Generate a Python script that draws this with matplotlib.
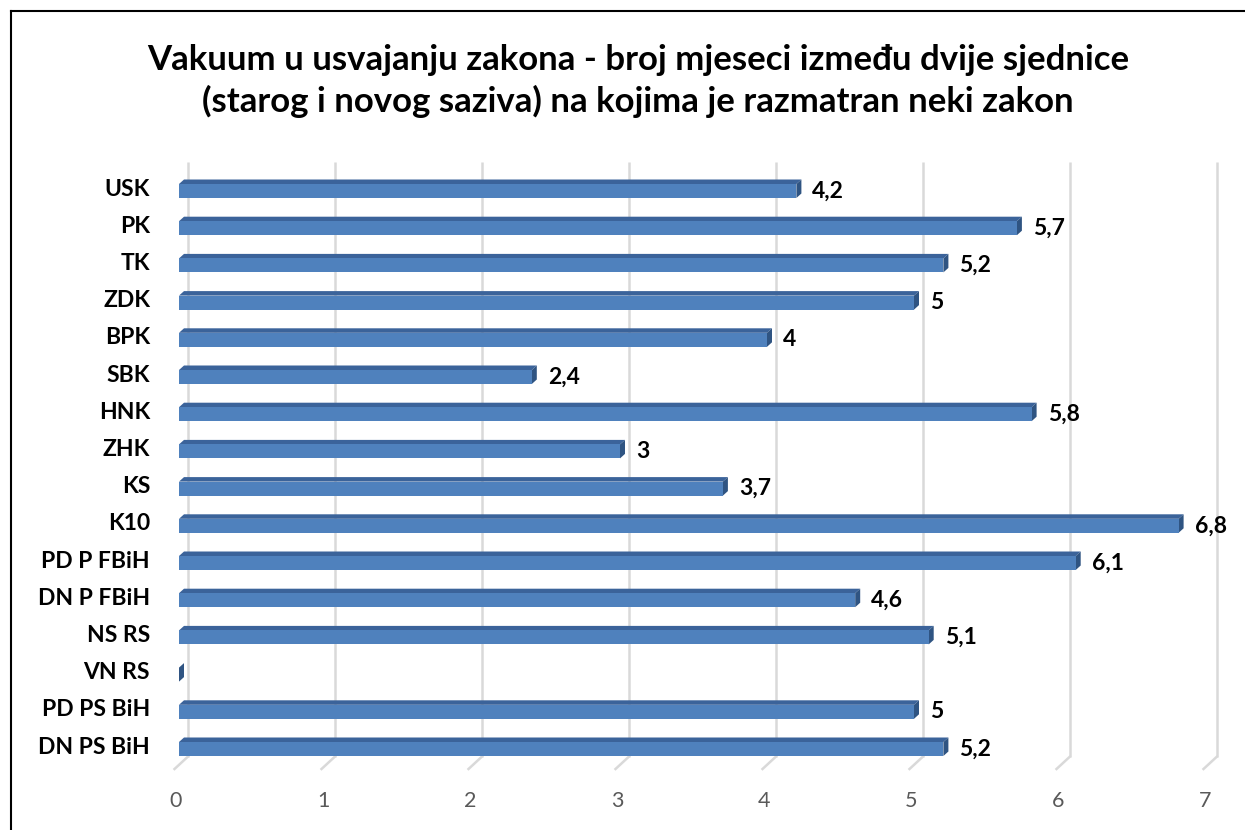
import matplotlib
matplotlib.use("Agg")
import matplotlib.pyplot as plt
from matplotlib.patches import Polygon
from matplotlib.lines import Line2D

plt.rcParams['font.family'] = ['Lato', 'DejaVu Sans']

categories = ["USK", "PK", "TK", "ZDK", "BPK", "SBK", "HNK", "ZHK", "KS", "K10",
              "PD P FBiH", "DN P FBiH", "NS RS", "VN RS", "PD PS BiH", "DN PS BiH"]
values = [4.2, 5.7, 5.2, 5.0, 4.0, 2.4, 5.8, 3.0, 3.7, 6.8, 6.1, 4.6, 5.1, 0.0, 5.0, 5.2]
value_labels = ["4,2", "5,7", "5,2", "5", "4", "2,4", "5,8", "3", "3,7", "6,8",
                "6,1", "4,6", "5,1", "", "5", "5,2"]
x_ticks = [0, 1, 2, 3, 4, 5, 6, 7]
title = "Vakuum u usvajanju zakona - broj mjeseci između dvije sjednice\n(starog i novog saziva) na kojima je razmatran neki zakon"

W, H = 1245, 830
fig = plt.figure(figsize=(W / 100, H / 100), dpi=100)

# axes geometry in pixels
ax_left, ax_right = 179, 1208
ax_top, ax_bottom = 162, 769
ax = fig.add_axes([ax_left / W, (H - ax_bottom) / H, (ax_right - ax_left) / W, (ax_bottom - ax_top) / H])
ax.set_xlim(0, 7)
y_first_px, y_step_px = 189, 37.2
y_top = (ax_top - y_first_px) / y_step_px
y_bot = (ax_bottom - y_first_px) / y_step_px
ax.set_ylim(y_bot, y_top)
ax.axis('off')

px_x = (ax_right - ax_left) / 7.0      # pixels per x unit
px_y = y_step_px                        # pixels per y unit

# back wall gridlines with floor diagonal
grid_dx = 8.5 / px_x
floor_dx = 13 / px_x
floor_dy = 12 / px_y
back_floor = y_bot - floor_dy
for t in x_ticks:
    ax.add_line(Line2D([t + grid_dx, t + grid_dx], [y_top, back_floor], color='#d9d9d9', lw=1.8, zorder=1,
                       clip_on=False, solid_capstyle='butt'))
    ax.add_line(Line2D([t + grid_dx, t + grid_dx - floor_dx], [back_floor, y_bot], color='#d9d9d9', lw=1.8,
                       zorder=1, clip_on=False))
    ax.text(t - 3 / px_x, y_bot + 32 / px_y, str(t), ha='center', va='center', fontsize=15.5,
            color='#595959')

# 3D-ish bars
bar_h = 14 / px_y
ddx = 5 / px_x
ddy = 4.5 / px_y
front_c = '#4F81BD'
top_c = '#3B639A'
side_c = '#2F5482'
for i, (v, lab, vl) in enumerate(zip(values, categories, value_labels)):
    yc = i + 2 / px_y
    y0 = yc - bar_h / 2
    y1 = yc + bar_h / 2
    # top face
    ax.add_patch(Polygon([(0, y0), (v, y0), (v + ddx, y0 - ddy), (ddx, y0 - ddy)],
                         closed=True, facecolor=top_c, edgecolor='none', zorder=3))
    # end face
    ax.add_patch(Polygon([(v, y0), (v + ddx, y0 - ddy), (v + ddx, y1 - ddy), (v, y1)],
                         closed=True, facecolor=side_c, edgecolor='none', zorder=3))
    # front face
    ax.barh(yc, v, height=bar_h, left=0, color=front_c, edgecolor='none', zorder=4)
    ax.text(-29 / px_x, i, lab, ha='right', va='center', fontsize=16.5, fontweight='bold', color='black')
    if vl:
        ax.text(v + 16 / px_x, i + 2 / px_y, vl, ha='left', va='center', fontsize=16.5, fontweight='bold',
                color='black')

fig.text(638 / W, 1 - 81 / H, title, ha='center', va='center', fontsize=25, fontweight='bold',
         linespacing=1.33, color='black')

# chart frame (left and top edges)
fig.add_artist(Line2D([11 / W, 11 / W], [0, 1 - 11 / H], color='black', lw=1.5, transform=fig.transFigure))
fig.add_artist(Line2D([11 / W, 1], [1 - 11 / H, 1 - 11 / H], color='black', lw=1.5, transform=fig.transFigure))

fig.savefig("out.png", dpi=100)
